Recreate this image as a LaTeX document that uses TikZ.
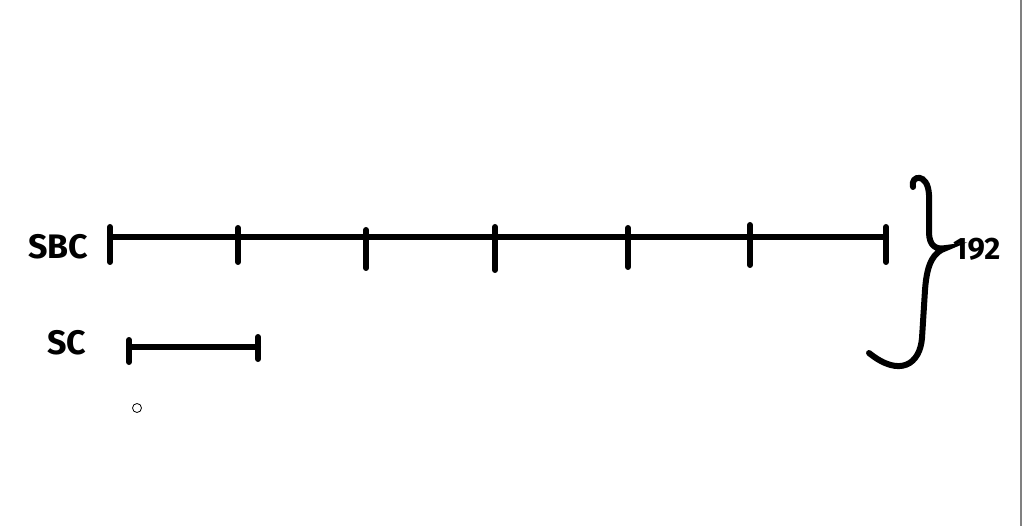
\documentclass[tikz,border=0pt]{standalone}
\usepackage{fontspec}
\setmainfont{Fira Sans}
\begin{document}
\begin{tikzpicture}[
    x=1pt, y=-1pt,
    bar/.style={
      line width=6pt,
      line cap=round
    },
    lbl/.style={
      font=\bfseries\fontsize{34}{34}\selectfont,
      inner sep=0pt
    }
  ]
  \useasboundingbox (0,0) rectangle (1024,526);
  % window border
  \draw[line width=2pt, gray] (1021,0) -- (1021,526);
  % SBC line
  \coordinate (sbcl) at (110,237);
  \coordinate (sbcr) at (886,237);
  \draw[bar] (sbcl) -- (sbcr);
  \foreach \x/\t/\b [count=\i] in {110/227/262, 238/228/262, 366/230/268,
      495/227/270, 628/228/267, 750/225/265, 886/227/262} {
    \coordinate (top\i) at (\x,\t);
    \coordinate (bot\i) at (\x,\b);
    \draw[bar] (top\i) -- (bot\i);
  }
  \node[lbl] (sbc) at (58,247) {SBC};
  % SC line
  \coordinate (scl) at (129,347);
  \coordinate (scr) at (258,347);
  \draw[bar] (scl) -- (scr);
  \coordinate (sct1) at (129,340);
  \coordinate (scb1) at (129,362);
  \coordinate (sct2) at (258,337);
  \coordinate (scb2) at (258,359);
  \draw[bar] (sct1) -- (scb1);
  \draw[bar] (sct2) -- (scb2);
  \node[lbl] (sc) at (67,343) {SC};
  % small circle
  \node[draw, circle, line width=0.8pt, minimum size=9pt, inner sep=0pt] (dot) at (137,408) {};
  % brace
  \coordinate (bracetop) at (913,187);
  \coordinate (bracetip) at (946,248);
  \coordinate (braceend) at (869,353);
  \draw[bar] (bracetop) .. controls (910,175) and (928,172) .. (929,195)
    -- (929,232) .. controls (929,246) and (936,250) .. (bracetip)
    .. controls (934,252) and (927,262) .. (925,290)
    -- (922,338) .. controls (920,364) and (900,378) .. (braceend);
  \node[lbl, font=\bfseries\fontsize{31}{31}\selectfont, anchor=west] (total) at (953,249) {192};
\end{tikzpicture}
\end{document}
